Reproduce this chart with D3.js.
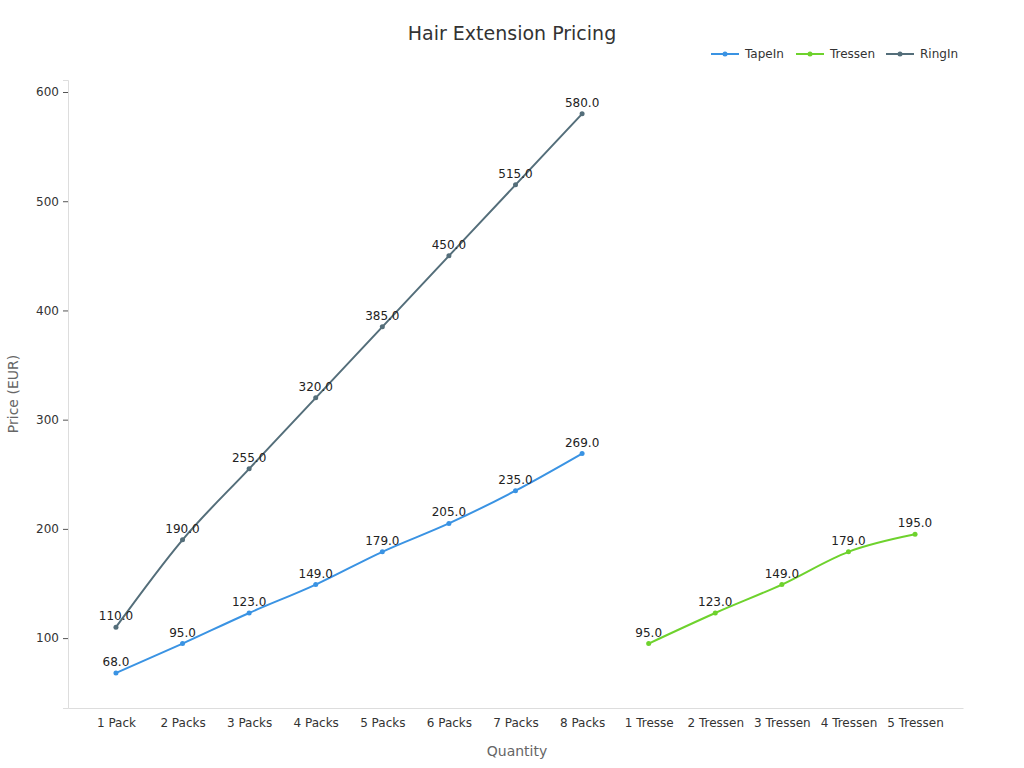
<!DOCTYPE html>
<html><head><meta charset="utf-8">
<script src="https://cdn.jsdelivr.net/npm/d3@7"></script>
<style>body{margin:0;background:#fff;font-family:"DejaVu Sans",sans-serif;}</style>
</head><body><svg id="chart" width="1024" height="768"></svg>
<script>
var categories = ["1 Pack","2 Packs","3 Packs","4 Packs","5 Packs","6 Packs","7 Packs","8 Packs","1 Tresse","2 Tressen","3 Tressen","4 Tressen","5 Tressen"];
var tapeIn = [68,95,123,149,179,205,235,269];
var tressen = [95,123,149,179,195];
var ringIn = [110,190,255,320,385,450,515,580];
var yTicks = [100,200,300,400,500,600];

var series = [
  {name:"TapeIn", color:"#3a93e3", points: tapeIn.map(function(v,i){return {c:categories[i], v:v};})},
  {name:"Tressen", color:"#6ed22d", points: tressen.map(function(v,i){return {c:categories[i+8], v:v};})},
  {name:"RingIn", color:"#546e7a", points: ringIn.map(function(v,i){return {c:categories[i], v:v};})}
];

var svg = d3.select("#chart");
var mLeft = 68, mRight = 963, mTop = 80, mBottom = 708;
var x = d3.scalePoint().domain(categories).range([mLeft,mRight]).padding(0.72);
var y = d3.scaleLinear().domain([36,611]).range([mBottom,mTop]);

svg.append("text").attr("x",512).attr("y",40).attr("text-anchor","middle")
  .attr("font-size",19).attr("fill","#333").text("Hair Extension Pricing");

var ya = svg.append("g").attr("transform","translate("+mLeft+",0)")
  .call(d3.axisLeft(y).tickValues(yTicks).tickSize(5).tickPadding(4));
ya.attr("font-family","DejaVu Sans, sans-serif");
ya.select(".domain").attr("stroke","#ddd");
ya.selectAll(".tick line").attr("stroke","#555");
ya.selectAll("text").attr("font-size",12).attr("fill","#333");

var xa = svg.append("g").attr("transform","translate(0,"+mBottom+")")
  .call(d3.axisBottom(x).tickSize(0).tickPadding(10));
xa.attr("font-family","DejaVu Sans, sans-serif");
xa.select(".domain").attr("stroke","#ddd");
xa.selectAll("text").attr("font-size",12).attr("fill","#333");

svg.append("text").attr("x",517).attr("y",756).attr("text-anchor","middle")
  .attr("font-size",14).attr("fill","#666").text("Quantity");
svg.append("text").attr("transform","translate(18,394) rotate(-90)").attr("text-anchor","middle")
  .attr("font-size",14).attr("fill","#666").text("Price (EUR)");

var line = d3.line().x(function(d){return x(d.c);}).y(function(d){return y(d.v);}).curve(d3.curveMonotoneX);

series.forEach(function(s){
  var g = svg.append("g");
  g.append("path").datum(s.points).attr("d",line).attr("fill","none")
    .attr("stroke",s.color).attr("stroke-width",2);
  g.selectAll("circle").data(s.points).enter().append("circle")
    .attr("cx",function(d){return x(d.c);}).attr("cy",function(d){return y(d.v);})
    .attr("r",2.5).attr("fill",s.color);
  g.selectAll("text").data(s.points).enter().append("text")
    .attr("x",function(d){return x(d.c);}).attr("y",function(d){return y(d.v)-7;})
    .attr("text-anchor","middle").attr("font-size",12).attr("fill","#222")
    .text(function(d){return d.v.toFixed(1);});
});

var legendX = [711,796,886];
series.forEach(function(s,i){
  var g = svg.append("g").attr("transform","translate("+legendX[i]+",54)");
  g.append("line").attr("x1",0).attr("x2",28).attr("stroke",s.color).attr("stroke-width",2);
  g.append("circle").attr("cx",14).attr("r",2.5).attr("fill",s.color);
  g.append("text").attr("x",34).attr("y",4).attr("font-size",12).attr("fill","#333").text(s.name);
});
</script></body></html>
